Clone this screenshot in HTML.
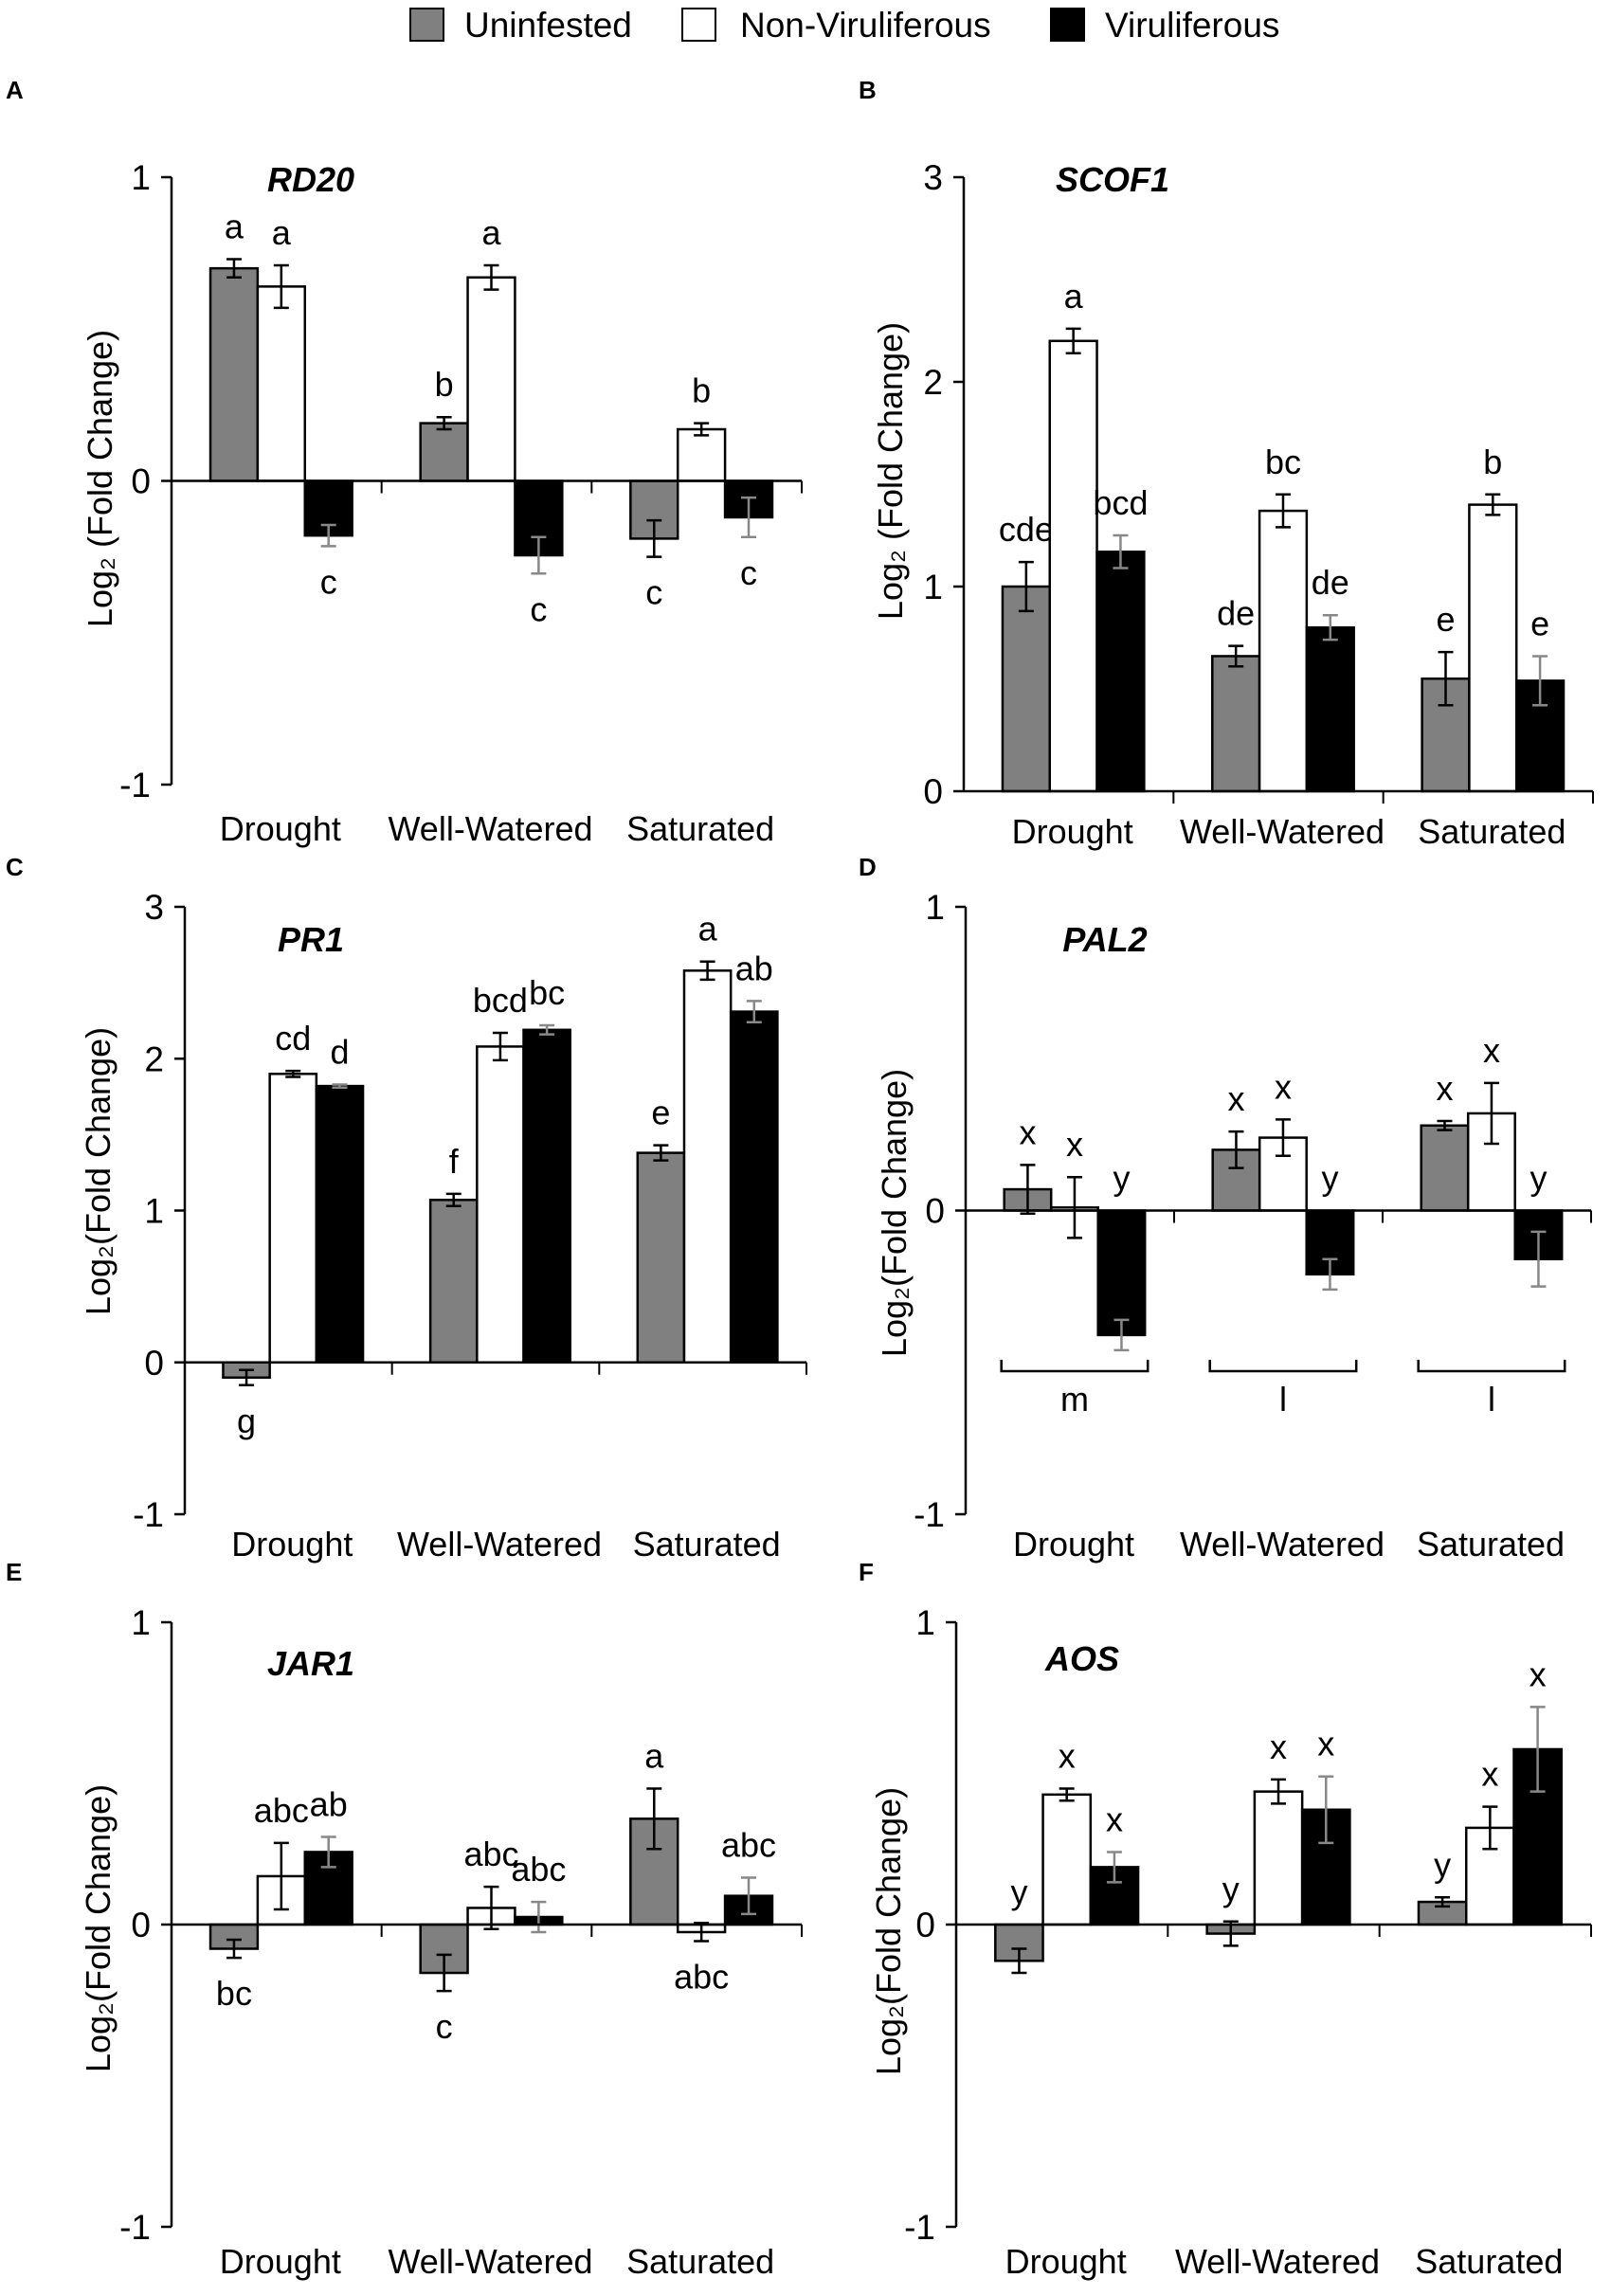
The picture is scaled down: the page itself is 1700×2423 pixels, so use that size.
<!DOCTYPE html>
<html><head><meta charset="utf-8"><style>
html,body{margin:0;padding:0;background:#fff;}
svg{display:block;font-family:"Liberation Sans",Arial,sans-serif;}
</style></head><body>
<svg id="fig" width="1700" height="2423" viewBox="0 0 1700 2423" xmlns="http://www.w3.org/2000/svg">
  <g>
    <g><rect x="433" y="9" width="35" height="34" fill="#808080" stroke="#000" stroke-width="2"/><text x="490" y="39" font-size="37">Uninfested</text></g>
    <g><rect x="720" y="9" width="35" height="34" fill="#fff" stroke="#000" stroke-width="2"/><text x="781" y="39" font-size="37">Non-Viruliferous</text></g>
    <g><rect x="1109" y="9" width="35" height="34" fill="#000" stroke="#000" stroke-width="2"/><text x="1166" y="39" font-size="37">Viruliferous</text></g>
  </g>
</svg>
<script>
const categories = ["Drought", "Well-Watered", "Saturated"];
// RD20
const rd20Uninf = [0.70, 0.19, -0.19], rd20UninfErr = [0.03, 0.02, 0.06];
const rd20Non = [0.64, 0.67, 0.17], rd20NonErr = [0.07, 0.04, 0.02];
const rd20Vir = [-0.18, -0.245, -0.12], rd20VirErr = [0.035, 0.06, 0.065];
const rd20Letters = [["a","a","c"],["b","a","c"],["c","b","c"]];
const rd20Side = [["u","u","d"],["u","u","d"],["d","u","d"]];
// SCOF1
const scofUninf = [1.0, 0.66, 0.55], scofUninfErr = [0.12, 0.05, 0.13];
const scofNon = [2.2, 1.37, 1.40], scofNonErr = [0.06, 0.08, 0.05];
const scofVir = [1.17, 0.80, 0.54], scofVirErr = [0.08, 0.06, 0.12];
const scofLetters = [["cde","a","bcd"],["de","bc","de"],["e","b","e"]];
const scofSide = [["u","u","u"],["u","u","u"],["u","u","u"]];
// PR1
const pr1Uninf = [-0.1, 1.07, 1.38], pr1UninfErr = [0.05, 0.04, 0.05];
const pr1Non = [1.9, 2.08, 2.58], pr1NonErr = [0.02, 0.09, 0.06];
const pr1Vir = [1.82, 2.19, 2.31], pr1VirErr = [0.01, 0.03, 0.07];
const pr1Letters = [["g","cd","d"],["f","bcd","bc"],["e","a","ab"]];
const pr1Side = [["d","u","u"],["u","u","u"],["u","u","u"]];
// PAL2
const pal2Uninf = [0.07, 0.20, 0.28], pal2UninfErr = [0.08, 0.06, 0.015];
const pal2Non = [0.01, 0.24, 0.32], pal2NonErr = [0.10, 0.06, 0.10];
const pal2Vir = [-0.41, -0.21, -0.16], pal2VirErr = [0.05, 0.05, 0.09];
const pal2Letters = [["x","x","y"],["x","x","y"],["x","x","y"]];
const pal2Side = [["u","u","u"],["u","u","u"],["u","u","u"]];
const pal2GroupLetters = ["m","l","l"];
// JAR1
const jar1Uninf = [-0.08, -0.16, 0.35], jar1UninfErr = [0.03, 0.06, 0.10];
const jar1Non = [0.16, 0.055, -0.025], jar1NonErr = [0.11, 0.07, 0.03];
const jar1Vir = [0.24, 0.025, 0.095], jar1VirErr = [0.05, 0.05, 0.06];
const jar1Letters = [["bc","abc","ab"],["c","abc","abc"],["a","abc","abc"]];
const jar1Side = [["d","u","u"],["d","u","u"],["u","d","u"]];
// AOS
const aosUninf = [-0.12, -0.03, 0.075], aosUninfErr = [0.04, 0.04, 0.015];
const aosNon = [0.43, 0.44, 0.32], aosNonErr = [0.02, 0.04, 0.07];
const aosVir = [0.19, 0.38, 0.58], aosVirErr = [0.05, 0.11, 0.14];
const aosLetters = [["y","x","x"],["y","x","x"],["y","x","x"]];
const aosSide = [["u","u","u"],["u","u","u"],["u","u","u"]];

const yTicksA = [-1, 0, 1];
const yTicksB = [0, 1, 2, 3];
const yTicksC = [-1, 0, 1, 2, 3];

const NS = "http://www.w3.org/2000/svg";
const svg = document.getElementById("fig");
function mk(tag, attrs, parent) {
  const e = document.createElementNS(NS, tag);
  for (const k in attrs) e.setAttribute(k, attrs[k]);
  (parent || svg).appendChild(e);
  return e;
}

const panels = [
  {id:"a", letter:"A", lx:6, ly:104, title:"RD20", tx:328, ty:202, ax:181, x1:846, yTop:187, yBot:828, min:-1, max:1, ticks:yTicksA, ylab:"Log\u2082 (Fold Change)", ylx:106, yly:505, xly:887,
   s:[rd20Uninf,rd20Non,rd20Vir], e:[rd20UninfErr,rd20NonErr,rd20VirErr], L:rd20Letters, S:rd20Side},
  {id:"b", letter:"B", lx:906, ly:104, title:"SCOF1", tx:1174, ty:202, ax:1017, x1:1681, yTop:187, yBot:835, min:0, max:3, ticks:yTicksB, ylab:"Log\u2082 (Fold Change)", ylx:940, yly:497, xly:890,
   s:[scofUninf,scofNon,scofVir], e:[scofUninfErr,scofNonErr,scofVirErr], L:scofLetters, S:scofSide},
  {id:"c", letter:"C", lx:6, ly:924, title:"PR1", tx:328, ty:1004, ax:195, x1:851, yTop:957, yBot:1598, min:-1, max:3, ticks:yTicksC, ylab:"Log\u2082(Fold Change)", ylx:104, yly:1236, xly:1642,
   s:[pr1Uninf,pr1Non,pr1Vir], e:[pr1UninfErr,pr1NonErr,pr1VirErr], L:pr1Letters, S:pr1Side},
  {id:"d", letter:"D", lx:906, ly:924, title:"PAL2", tx:1166, ty:1004, ax:1019, x1:1679, yTop:957, yBot:1598, min:-1, max:1, ticks:yTicksA, ylab:"Log\u2082(Fold Change)", ylx:944, yly:1280, xly:1642,
   s:[pal2Uninf,pal2Non,pal2Vir], e:[pal2UninfErr,pal2NonErr,pal2VirErr], L:pal2Letters, S:pal2Side, bracket:pal2GroupLetters},
  {id:"e", letter:"E", lx:6, ly:1668, title:"JAR1", tx:328, ty:1768, ax:181, x1:846, yTop:1712, yBot:2350, min:-1, max:1, ticks:yTicksA, ylab:"Log\u2082(Fold Change)", ylx:104, yly:2035, xly:2399,
   s:[jar1Uninf,jar1Non,jar1Vir], e:[jar1UninfErr,jar1NonErr,jar1VirErr], L:jar1Letters, S:jar1Side},
  {id:"f", letter:"F", lx:906, ly:1668, title:"AOS", tx:1142, ty:1763, ax:1009, x1:1679, yTop:1712, yBot:2350, min:-1, max:1, ticks:yTicksA, ylab:"Log\u2082(Fold Change)", ylx:938, yly:2038, xly:2399,
   s:[aosUninf,aosNon,aosVir], e:[aosUninfErr,aosNonErr,aosVirErr], L:aosLetters, S:aosSide}
];
const fills = ["#808080", "#ffffff", "#000000"];
const errCol = ["#000", "#000", "#888"];
const seriesNames = ["uninfested", "non-viruliferous", "viruliferous"];

panels.forEach(p => {
  const g = mk("g", {});
  
  
  const yS = v => p.yBot - (v - p.min) / (p.max - p.min) * (p.yBot - p.yTop);
  const gw = (p.x1 - p.ax) / 3;
  const bw = gw * 0.225, off = gw * 0.185;
  const y0 = yS(0);

  const pl = mk("text", {x:p.lx, y:p.ly, "font-size":26, "font-weight":"bold"}, g);
  pl.textContent = p.letter;
  
  

  const t = mk("text", {x:p.tx, y:p.ty, "font-size":36, "font-weight":"bold", "font-style":"italic", "text-anchor":"middle"}, g);
  t.textContent = p.title;
  
  

  const yl = mk("text", {x:0, y:0, "font-size":36, "text-anchor":"middle", transform:`translate(${p.ylx + 12},${p.yly}) rotate(-90)`}, g);
  yl.textContent = p.ylab;
  
  

  // bars
  for (let c = 0; c < 3; c++) {
    for (let s = 0; s < 3; s++) {
      const v = p.s[s][c], er = p.e[s][c];
      const x = p.ax + c * gw + off + s * bw;
      const yv = yS(v);
      const r = mk("rect", {x:x, y:Math.min(yv, y0), width:bw, height:Math.abs(yv - y0), fill:fills[s], stroke:"#000", "stroke-width":2.5}, g);
      
      
      const cx = x + bw / 2, yt = yS(v + er), yb = yS(v - er);
      const eg = mk("path", {d:`M${cx},${yt}V${yb}M${cx-8},${yt}H${cx+8}M${cx-8},${yb}H${cx+8}`, stroke:errCol[s], "stroke-width":2.5, fill:"none"}, g);
      
      
      const side = p.S[c][s];
      let ly;
      if (side === "u") ly = Math.min(y0, yt) - 22; else ly = Math.max(y0, yb) + 50;
      const lt = mk("text", {x:cx, y:ly, "font-size":36, "text-anchor":"middle"}, g);
      lt.textContent = p.L[c][s];
      
      
    }
    const cl = mk("text", {x:p.ax + c * gw + gw / 2 + 4, y:p.xly, "font-size":36, "text-anchor":"middle"}, g);
    cl.textContent = categories[c];
    
    
  }
  // axes
  const ya = mk("line", {x1:p.ax, y1:p.yTop, x2:p.ax, y2:p.yBot, stroke:"#000", "stroke-width":2.5}, g);
  
  
  const xa = mk("line", {x1:p.ax, y1:y0, x2:p.x1, y2:y0, stroke:"#000", "stroke-width":2.5}, g);
  
  
  for (let c = 1; c <= 3; c++) {
    const xx = p.ax + c * gw;
    mk("line", {x1:xx, y1:y0, x2:xx, y2:y0 + 13, stroke:"#000", "stroke-width":2}, g);
  }
  p.ticks.forEach(tv => {
    const yy = yS(tv);
    mk("line", {x1:p.ax - 11, y1:yy, x2:p.ax, y2:yy, stroke:"#000", "stroke-width":2.5}, g);
    const tl = mk("text", {x:p.ax - 22, y:yy + 13, "font-size":37, "text-anchor":"end"}, g);
    tl.textContent = String(tv);
    
    
  });
  if (p.bracket) {
    const by = 1447;
    for (let c = 0; c < 3; c++) {
      const xL = p.ax + c * gw + off - 3, xR = p.ax + c * gw + off + 3 * bw + 3;
      const br = mk("path", {d:`M${xL},${by-12}V${by}H${xR}V${by-12}`, stroke:"#000", "stroke-width":2.5, fill:"none"}, g);
      
      
      const bl = mk("text", {x:(xL + xR) / 2, y:by + 42, "font-size":36, "text-anchor":"middle"}, g);
      bl.textContent = p.bracket[c];
      
      
    }
  }
});
</script>
</body></html>
